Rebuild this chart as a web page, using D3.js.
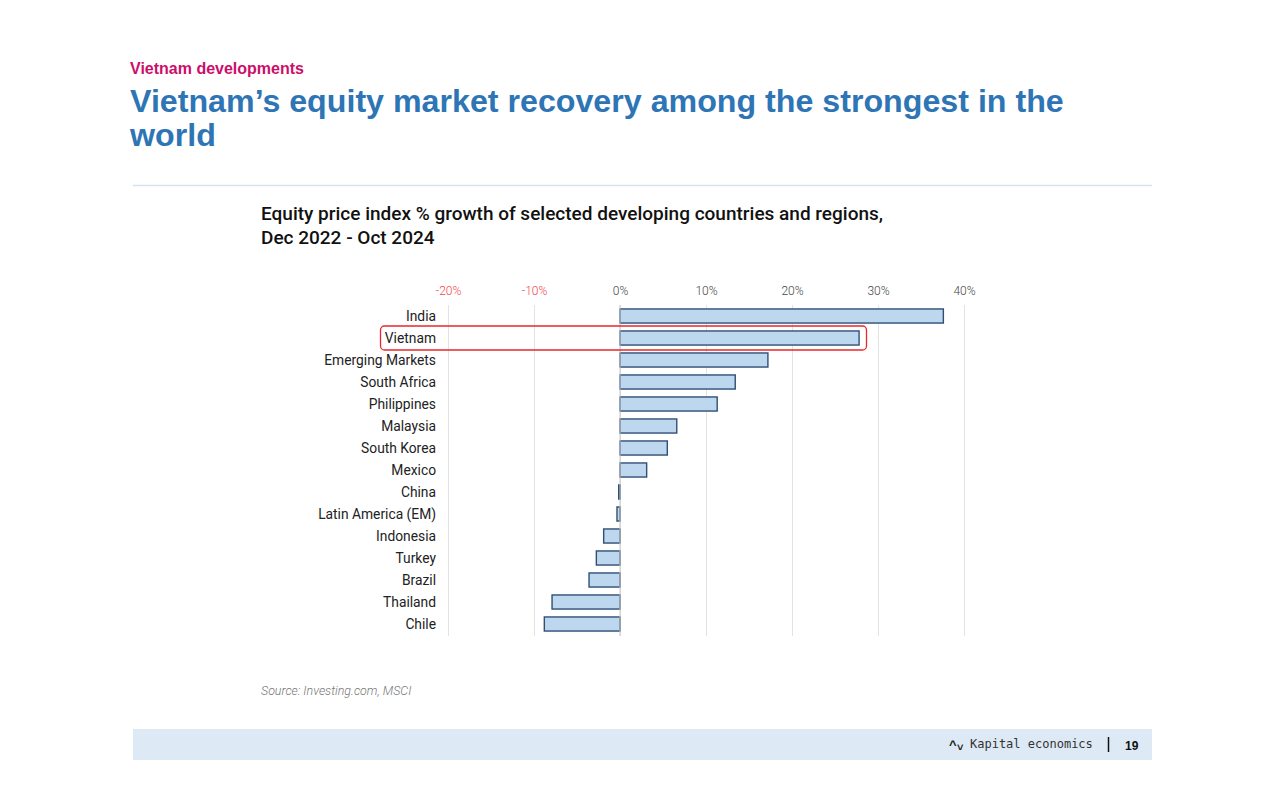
<!DOCTYPE html>
<html><head><meta charset="utf-8">
<script src="https://cdn.jsdelivr.net/npm/d3@7"></script>
<style>
html,body{margin:0;padding:0;background:#fff;}
svg{display:block;}
</style></head>
<body>
<svg id="chart" width="1280" height="785"></svg>
<script>
const categories = ["India","Vietnam","Emerging Markets","South Africa","Philippines","Malaysia","South Korea","Mexico","China","Latin America (EM)","Indonesia","Turkey","Brazil","Thailand","Chile"];
const growth = [37.6, 27.8, 17.2, 13.4, 11.3, 6.6, 5.5, 3.1, -0.15, -0.35, -1.9, -2.75, -3.6, -7.9, -8.8];
const tickValues = [-20, -10, 0, 10, 20, 30, 40];
const highlight = "Vietnam";

const svg = d3.select("#chart");

// Header
svg.append("text").attr("x",130).attr("y",74).attr("font-family","Liberation Sans, Arial, sans-serif")
  .attr("font-weight","bold").attr("font-size",16).attr("fill","#cc0e6a").text("Vietnam developments");
const t = svg.append("text").attr("font-family","Liberation Sans, Arial, sans-serif")
  .attr("font-weight","bold").attr("font-size",32.2).attr("fill","#2e75b6");
t.append("tspan").attr("x",130).attr("y",112).text("Vietnam\u2019s equity market recovery among the strongest in the");
t.append("tspan").attr("x",130).attr("y",146).text("world");
svg.append("line").attr("x1",133).attr("x2",1152).attr("y1",185.5).attr("y2",185.5).attr("stroke","#d3e3f3").attr("stroke-width",1.5);

// Chart title
const ct = svg.append("text").attr("font-family","Roboto, sans-serif").attr("font-weight",500)
  .attr("font-size",19).attr("fill","#111");
ct.append("tspan").attr("x",261).attr("y",220).text("Equity price index % growth of selected developing countries and regions,");
ct.append("tspan").attr("x",261).attr("y",244).text("Dec 2022 - Oct 2024");

// Scales
const x = d3.scaleLinear().domain([-20, 40]).range([448, 964]);
const y = d3.scaleBand().domain(categories).range([305, 635]).paddingInner(0.36).paddingOuter(0.18);

// grid
svg.append("g").selectAll("line").data(tickValues).join("line")
  .attr("x1",d=>x(d)+0.5).attr("x2",d=>x(d)+0.5).attr("y1",305).attr("y2",636)
  .attr("stroke","#e3e3e3").attr("stroke-width",1);

// top axis
const axis = d3.axisTop(x).tickValues(tickValues).tickSize(0).tickFormat(d=>d+"%");
const ag = svg.append("g").attr("transform","translate(0,298)").call(axis);
ag.select(".domain").remove();
ag.selectAll("text").attr("font-family","Roboto, sans-serif").attr("font-size",12)
  .attr("font-weight",300)
  .attr("fill",d=>d<0?"#f0474a":"#444");

// bars
svg.append("g").selectAll("rect").data(categories).join("rect")
  .attr("x",(d,i)=>x(Math.min(0,growth[i])))
  .attr("y",d=>y(d))
  .attr("width",(d,i)=>Math.abs(x(growth[i])-x(0)))
  .attr("height",y.bandwidth())
  .attr("fill","#bdd7ee").attr("stroke","#2f4f77").attr("stroke-width",1.4);

// zero line
svg.append("line").attr("x1",x(0)).attr("x2",x(0)).attr("y1",305).attr("y2",636)
  .attr("stroke","#c8c8c8").attr("stroke-width",1);

// category labels
const yAxis = d3.axisLeft(y).tickSize(0).tickPadding(0);
const yg = svg.append("g").attr("transform","translate(436,1)").call(yAxis);
yg.select(".domain").remove();
yg.selectAll("text").attr("font-family","Roboto, sans-serif").attr("font-size",13.8).attr("fill","#222");

// highlight box
svg.append("rect").attr("x",380.5).attr("y",y(highlight)+y.bandwidth()/2-12)
  .attr("width",486).attr("height",24).attr("rx",4)
  .attr("fill","none").attr("stroke","#e8282c").attr("stroke-width",1.3);

// source
svg.append("text").attr("x",261).attr("y",695).attr("font-family","Roboto, sans-serif")
  .attr("font-style","italic").attr("font-size",12.4).attr("font-weight",300).attr("fill","#777").text("Source: Investing.com, MSCI");

// footer
svg.append("rect").attr("x",133).attr("y",729).attr("width",1019).attr("height",31).attr("fill","#dde9f5");
svg.append("text").attr("x",949).attr("y",749).attr("font-family","Liberation Sans, sans-serif").attr("font-size",13)
  .attr("font-weight","bold").attr("fill","#222").text("^");
svg.append("text").attr("x",957).attr("y",751).attr("font-family","Liberation Sans, sans-serif").attr("font-size",11)
  .attr("font-weight","bold").attr("fill","#222").text("\u02c5");
svg.append("text").attr("x",970).attr("y",748).attr("font-family","DejaVu Sans Mono, monospace").attr("font-size",12)
  .attr("fill","#333").text("Kapital economics");
svg.append("line").attr("x1",1108.5).attr("x2",1108.5).attr("y1",737).attr("y2",752).attr("stroke","#111").attr("stroke-width",1.5);
svg.append("text").attr("x",1125).attr("y",750).attr("font-family","Liberation Sans, Arial, sans-serif").attr("font-size",12)
  .attr("font-weight","bold").attr("fill","#111").text("19");
</script>
</body></html>
